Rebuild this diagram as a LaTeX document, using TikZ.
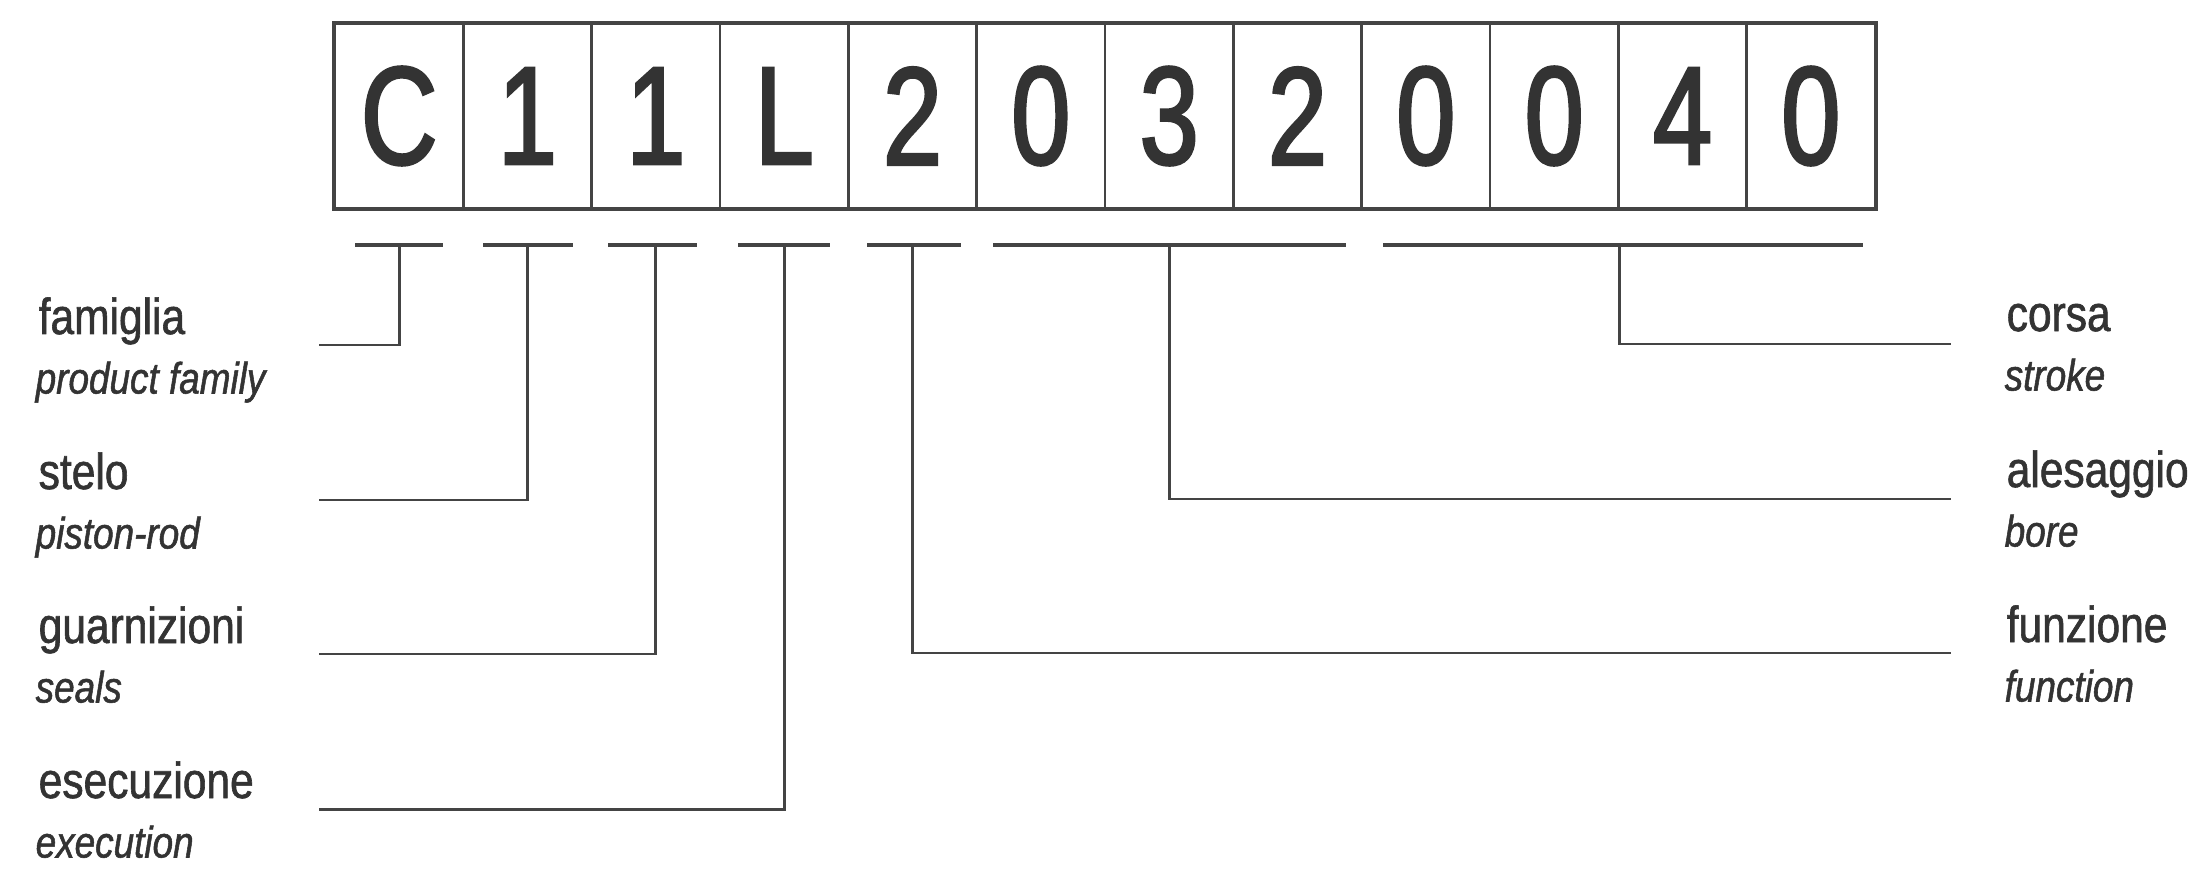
\documentclass[tikz,border=0pt]{standalone}
\usepackage{fontspec}
\setmainfont{Liberation Sans}[FakeStretch=0.84, FakeBold=1.2]
\newfontfamily\cellfont{Liberation Sans}[FakeStretch=0.76, FakeBold=2]
\definecolor{codeink}{HTML}{333333}
\definecolor{codeline}{HTML}{444444}

\begin{document}
\begin{tikzpicture}[
  every node/.style={text=codeink},
  cell/.style={rectangle, draw=codeline, line width=0.75pt, minimum width=1.2833cm, minimum height=1.84cm, inner sep=0pt, font=\cellfont\fontsize{39.7}{40}\selectfont},
  word/.style={anchor=base west, inner sep=0pt, font=\fontsize{14.4}{16}\selectfont},
  trans/.style={anchor=base west, inner sep=0pt, font=\itshape\fontsize{12.5}{14}\selectfont},
  bar/.style={draw=codeline, line width=1.1pt},
  link/.style={draw=codeline, line width=0.85pt},
]
\useasboundingbox (0,0) rectangle (21.91,-8.75);

% Code boxes
\node[cell] (c1) at (3.992,-1.16) {C};
\node[cell] (c2) at (5.275,-1.16) {1};
\node[cell] (c3) at (6.558,-1.16) {1};
\node[cell] (c4) at (7.842,-1.16) {L};
\node[cell] (c5) at (9.125,-1.16) {2};
\node[cell] (c6) at (10.408,-1.16) {0};
\node[cell] (c7) at (11.692,-1.16) {3};
\node[cell] (c8) at (12.975,-1.16) {2};
\node[cell] (c9) at (14.258,-1.16) {0};
\node[cell] (c10) at (15.542,-1.16) {0};
\node[cell] (c11) at (16.825,-1.16) {4};
\node[cell] (c12) at (18.108,-1.16) {0};
\draw[codeline, line width=1.2pt] (c1.north west) rectangle (c12.south east);

% Bars under the code
\coordinate (barline) at (0,-2.45);
\draw[bar] (3.55,-2.45) -- (4.43,-2.45);
\draw[bar] (4.83,-2.45) -- (5.73,-2.45);
\draw[bar] (6.08,-2.45) -- (6.97,-2.45);
\draw[bar] (7.38,-2.45) -- (8.30,-2.45);
\draw[bar] (8.67,-2.45) -- (9.61,-2.45);
\draw[bar] (9.93,-2.45) -- (13.46,-2.45);
\draw[bar] (13.83,-2.45) -- (18.63,-2.45);

% Left labels
\node[word] (fam) at (0.38,-3.34) {famiglia};
\node[trans] (famen) at (0.35,-3.935) {product family};
\node[word] (stelo) at (0.38,-4.89) {stelo};
\node[trans] (steloen) at (0.35,-5.485) {piston-rod};
\node[word] (guarn) at (0.38,-6.43) {guarnizioni};
\node[trans] (guarnen) at (0.35,-7.025) {seals};
\node[word] (esec) at (0.38,-7.98) {esecuzione};
\node[trans] (esecen) at (0.35,-8.575) {execution};

% Right labels
\node[word] (corsa) at (20.06,-3.31) {corsa};
\node[trans] (corsaen) at (20.04,-3.905) {stroke};
\node[word] (ales) at (20.06,-4.87) {alesaggio};
\node[trans] (alesen) at (20.04,-5.465) {bore};
\node[word] (funz) at (20.06,-6.42) {funzione};
\node[trans] (funzen) at (20.04,-7.015) {function};

% Line ends
\coordinate (efam) at (3.19,-3.45);
\coordinate (estelo) at (3.19,-5.00);
\coordinate (eguarn) at (3.19,-6.54);
\coordinate (eesec) at (3.19,-8.09);
\coordinate (ecorsa) at (19.51,-3.44);
\coordinate (eales) at (19.51,-4.99);
\coordinate (efunz) at (19.51,-6.53);

% Connectors
\draw[link] (c1 |- barline) |- (efam);
\draw[link] (c2 |- barline) |- (estelo);
\draw[link] (c3 |- barline) |- (eguarn);
\draw[link] (c4 |- barline) |- (eesec);
\draw[link] (c5 |- barline) |- (efunz);
\draw[link] (c7 |- barline) |- (eales);
\draw[link] (c10.east |- barline) |- (ecorsa);

\end{tikzpicture}
\end{document}
